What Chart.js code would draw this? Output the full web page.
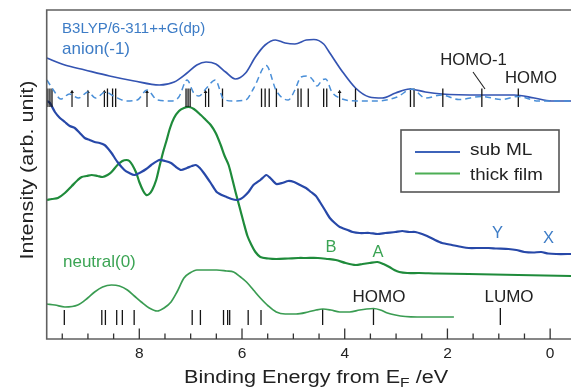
<!DOCTYPE html>
<html><head><meta charset="utf-8">
<script src="https://cdn.jsdelivr.net/npm/chart.js@4.4.1/dist/chart.umd.min.js"></script>
<style>html,body{margin:0;padding:0;background:#fff;}#wrap{width:575px;height:387px;}</style>
</head><body><div id="wrap"><canvas id="c" width="575" height="387"></canvas></div>
<script>
// ---- tick data ----
const energyTicks = [8, 6, 4, 2, 0];
const energyTickLabels = ['8', '6', '4', '2', '0'];
const minorTicks = [9.5, 9, 8.5, 7.5, 7, 6.5, 5.5, 5, 4.5, 3.5, 3, 2.5, 1.5, 1, 0.5];

// ---- calculated anion spectrum (solid) ----
const anionCalcE = [9.80, 9.45, 9.06, 8.58, 8.10, 7.61, 7.32, 7.07, 6.88, 6.70, 6.51, 6.32, 6.13, 5.93, 5.74, 5.55, 5.35, 5.16, 4.97, 4.75, 4.60, 4.41, 4.29, 4.04, 3.79, 3.52, 3.27, 3.01, 2.74, 2.43, 2.11, 1.33, 0.70, 0.31, -0.02, -0.41];
const anionCalcI = [281, 274, 269, 263, 258, 254, 257, 266, 274, 277, 275, 267, 260, 266, 282, 294, 299, 296, 295, 299, 299.5, 295, 286, 267, 251, 242, 241, 246, 250, 247, 245, 244, 244, 241, 238, 238];

// ---- calculated anion DOS (dashed) ----
const anionDosE = [9.80, 9.66, 9.53, 9.36, 9.18, 9.00, 8.85, 8.66, 8.50, 8.25, 8.04, 7.85, 7.65, 7.38, 7.23, 7.07, 6.94, 6.84, 6.69, 6.52, 6.36, 6.18, 5.93, 5.77, 5.53, 5.33, 5.10, 4.97, 4.85, 4.71, 4.62, 4.54, 4.44, 4.37, 4.25, 4.10, 3.75, 3.36, 2.98, 2.69, 2.43, 2.11, 1.78, 1.33, 0.95, 0.62, 0.23, -0.41];
const anionDosI = [259, 248, 240, 245, 241, 247, 241, 247, 243, 238, 239, 249, 239, 238, 242, 259, 246, 243, 251, 259, 240, 238, 239, 251, 273.5, 248, 239, 249, 262, 263, 259, 253, 259, 260, 247, 241, 238, 238, 242, 250, 241, 244, 239.5, 242.5, 239.5, 242.5, 238, 238];

// ---- anion levels ----
const anionStickE = [9.78, 9.74, 9.70, 8.62, 8.52, 8.46, 7.09, 7.05, 7.01, 6.65, 6.38, 5.62, 5.55, 5.47, 5.33, 4.91, 4.85, 4.71, 4.41, 4.35, 3.79, 2.72, 2.65, 2.09, 1.33, 0.62];
const anionArrowE = [9.31, 9.00, 8.68, 7.85, 6.71, 4.10];

// ---- experiment: sub ML ----
const subMLE = [9.797, 9.739, 9.643, 9.546, 9.449, 9.353, 9.256, 9.159, 9.063, 8.966, 8.870, 8.773, 8.676, 8.618, 8.541, 8.425, 8.290, 8.193, 8.097, 7.961, 7.865, 7.768, 7.614, 7.498, 7.382, 7.285, 7.188, 7.072, 6.976, 6.899, 6.821, 6.744, 6.609, 6.493, 6.396, 6.300, 6.203, 6.106, 6.029, 5.971, 5.874, 5.778, 5.643, 5.527, 5.449, 5.333, 5.217, 5.101, 4.986, 4.870, 4.754, 4.657, 4.560, 4.483, 4.386, 4.290, 4.193, 4.097, 3.942, 3.845, 3.710, 3.517, 3.362, 3.208, 3.014, 2.879, 2.744, 2.628, 2.493, 2.396, 2.242, 2.106, 1.913, 1.720, 1.585, 1.391, 1.198, 1.043, 0.812, 0.657, 0.502, 0.329, 0.174, 0.039, -0.116, -0.406];
const subMLI = [238, 236, 227, 221, 217, 213, 211, 206, 201, 199, 197, 196, 194, 191, 186, 177, 169, 166, 164, 167, 170, 174, 179, 178, 176, 172, 169, 171, 173, 174, 171, 166, 156, 147, 144, 142, 140, 139, 140, 142, 147, 154, 159, 164, 161, 155, 156, 158, 157, 154, 151, 147, 143, 137, 129, 121, 116, 112, 109, 107, 106, 106, 105, 106, 107, 108, 107, 107, 105, 103, 99, 96, 94, 92, 91, 91, 91, 90.5, 90, 89, 87, 86.5, 87, 85.5, 85, 85];

// ---- experiment: thick film ----
const thickE = [9.797, 9.700, 9.585, 9.449, 9.314, 9.198, 9.121, 9.024, 8.928, 8.812, 8.715, 8.618, 8.541, 8.425, 8.329, 8.251, 8.193, 8.135, 8.058, 8.000, 7.923, 7.865, 7.807, 7.749, 7.671, 7.614, 7.536, 7.478, 7.401, 7.324, 7.227, 7.130, 7.034, 6.937, 6.802, 6.705, 6.609, 6.512, 6.415, 6.338, 6.261, 6.184, 6.126, 6.048, 5.971, 5.894, 5.816, 5.739, 5.643, 5.488, 5.333, 5.101, 4.908, 4.754, 4.522, 4.329, 4.174, 3.981, 3.787, 3.652, 3.517, 3.362, 3.246, 3.130, 3.034, 2.937, 2.783, 2.551, 2.203, 1.585, 0.618, -0.406];
const thickI = [139, 140, 141, 146, 153, 159, 162, 163, 164, 163, 162, 164, 167, 174, 178, 179, 178, 174, 166, 157, 148, 144, 145, 149, 159, 171, 187, 197, 211, 221, 228, 231, 232, 230, 224, 219, 214, 206, 194, 183, 174, 159, 147, 132, 117, 103, 94, 87, 82, 80.5, 80, 80.5, 81, 81, 81, 80, 79, 76, 74, 75, 76, 77, 75, 72, 69, 67, 66, 66, 65.5, 65, 64, 63];

// ---- calculated neutral spectrum ----
const neutralE = [9.797, 9.643, 9.449, 9.198, 9.005, 8.870, 8.715, 8.541, 8.386, 8.232, 8.097, 7.961, 7.807, 7.652, 7.517, 7.382, 7.266, 7.130, 7.014, 6.879, 6.647, 6.493, 6.300, 6.164, 6.029, 5.913, 5.778, 5.643, 5.488, 5.333, 5.159, 4.947, 4.715, 4.560, 4.425, 4.271, 4.097, 3.903, 3.710, 3.575, 3.440, 3.304, 3.169, 3.014, 2.821, 2.589, 2.203, 1.874];
const neutralI = [35, 34, 32, 34, 41, 47, 52, 54, 53, 49, 43, 37, 31, 28, 31, 37, 47, 61, 66, 69, 69, 69, 68, 67, 62, 57, 49, 41, 33, 27, 25, 25, 27, 29, 30, 29, 27, 27, 29, 30, 30.5, 29, 26, 24, 22.5, 22, 22, 22];

// ---- neutral levels ----
const neutralStickE = [9.46, 8.73, 8.66, 8.44, 8.33, 8.10, 6.97, 6.81, 6.36, 6.28, 6.24, 5.88, 5.63, 4.43, 3.44, 0.97];
const neutralStickTop = [29, 29, 29, 29, 29, 29, 29, 29, 29, 29, 29, 29, 29, 30, 30.5, 31];

const seriesNames = ['sub ML', 'thick film'];

// ---- helpers ----
const toXY = (xs, ys) => xs.map((x, i) => ({x: x, y: ys[i]}));
function sticks(xs, lo, hi) {
  const out = [];
  xs.forEach((x, i) => {
    out.push({x: x, y: lo});
    out.push({x: x, y: Array.isArray(hi) ? hi[i] : hi});
    out.push({x: x, y: null});
  });
  return out;
}

const FONT = '"Liberation Sans", Arial, Helvetica, sans-serif';
function txt(ctx, s, x, y, size, color, align, sx) {
  ctx.save();
  ctx.font = size + 'px ' + FONT;
  ctx.fillStyle = color;
  ctx.textBaseline = 'alphabetic';
  ctx.textAlign = align || 'left';
  ctx.translate(x, y);
  ctx.scale(sx || 1, 1);
  ctx.fillText(s, 0, 0);
  ctx.restore();
}

const C_BLUE_TXT = '#3d7cc6';
const C_GREEN_TXT = '#3ba454';
const C_SUB = '#2748a8';
const C_THICK = '#1f8b3b';
const C_AXIS = '#606060';

const decor = {
  id: 'decor',
  afterDatasetsDraw(chart) {
    const ctx = chart.ctx, a = chart.chartArea, xs = chart.scales.x;
    ctx.save();
    // frame: top, left, bottom
    ctx.strokeStyle = C_AXIS; ctx.lineWidth = 1.6;
    ctx.beginPath();
    ctx.moveTo(a.right, a.top); ctx.lineTo(a.left, a.top); ctx.lineTo(a.left, a.bottom); ctx.lineTo(a.right, a.bottom);
    ctx.stroke();
    // inward ticks
    ctx.lineWidth = 1.3; ctx.strokeStyle = '#333';
    energyTicks.forEach(v => { const p = xs.getPixelForValue(v); ctx.beginPath(); ctx.moveTo(p, a.bottom); ctx.lineTo(p, a.bottom - 10.5); ctx.stroke(); });
    minorTicks.forEach(v => { const p = xs.getPixelForValue(v); ctx.beginPath(); ctx.moveTo(p, a.bottom); ctx.lineTo(p, a.bottom - 5.5); ctx.stroke(); });
    // tick labels
    energyTicks.forEach((v, i) => txt(ctx, energyTickLabels[i], xs.getPixelForValue(v), 358, 15.5, '#222', 'center'));
    // x title with subscript
    ctx.font = '18px ' + FONT;
    const s1 = 'Binding Energy from E', s3 = ' /eV';
    const w1 = ctx.measureText(s1).width * 1.2;
    ctx.font = '13px ' + FONT;
    const w2 = ctx.measureText('F').width * 1.2;
    const x0 = 184;
    txt(ctx, s1, x0, 383, 18, '#222', 'left', 1.2);
    txt(ctx, 'F', x0 + w1, 386.5, 13, '#222', 'left', 1.2);
    txt(ctx, s3, x0 + w1 + w2, 383, 18, '#222', 'left', 1.2);
    // y title
    ctx.save();
    ctx.translate(33, 170); ctx.rotate(-Math.PI / 2);
    txt(ctx, 'Intensity (arb. unit)', 0, 0, 18, '#222', 'center', 1.2);
    ctx.restore();
    // annotations
    txt(ctx, 'B3LYP/6-311++G(dp)', 62, 33, 15.5, C_BLUE_TXT, 'left', 0.97);
    txt(ctx, 'anion(-1)', 62, 53.5, 17, C_BLUE_TXT, 'left', 1.0);
    txt(ctx, 'HOMO-1', 473.5, 65, 17, '#222', 'center', 0.98);
    txt(ctx, 'HOMO', 531, 83, 17, '#222', 'center', 0.98);
    ctx.strokeStyle = '#222'; ctx.lineWidth = 1.1;
    ctx.beginPath(); ctx.moveTo(473, 72); ctx.lineTo(485, 89); ctx.stroke();
    txt(ctx, 'Y', 497.5, 238, 16.5, C_BLUE_TXT, 'center');
    txt(ctx, 'X', 548.5, 242.5, 16.5, C_BLUE_TXT, 'center');
    txt(ctx, 'B', 331, 251.5, 16.5, C_GREEN_TXT, 'center');
    txt(ctx, 'A', 378, 256.5, 16.5, C_GREEN_TXT, 'center');
    txt(ctx, 'neutral(0)', 63, 267, 17, C_GREEN_TXT, 'left');
    txt(ctx, 'HOMO', 379, 301.5, 17, '#222', 'center');
    txt(ctx, 'LUMO', 509, 301.5, 17, '#222', 'center');
    // legend
    ctx.fillStyle = '#fff';
    ctx.fillRect(401, 130, 158, 62);
    ctx.strokeStyle = '#555'; ctx.lineWidth = 1.6;
    ctx.strokeRect(401, 130, 158, 62);
    ctx.lineWidth = 2.2;
    ctx.strokeStyle = '#3d63b9';
    ctx.beginPath(); ctx.moveTo(415, 152); ctx.lineTo(460, 152); ctx.stroke();
    ctx.strokeStyle = '#4cae55';
    ctx.beginPath(); ctx.moveTo(415, 173.5); ctx.lineTo(460, 173.5); ctx.stroke();
    txt(ctx, seriesNames[0], 470, 155, 17, '#222', 'left', 1.12);
    txt(ctx, seriesNames[1], 470, 180, 17, '#222', 'left', 1.1);
    ctx.restore();
  }
};

const ctxEl = document.getElementById('c');
new Chart(ctxEl, {
  type: 'scatter',
  data: {
    datasets: [
      {label: 'anion DOS', data: toXY(anionDosE, anionDosI), showLine: true, borderColor: '#4a8fd8', borderWidth: 1.5, borderDash: [6, 4], pointRadius: 0, cubicInterpolationMode: 'monotone'},
      {label: 'anion levels', data: sticks(anionStickE, 232, 250.5), showLine: true, spanGaps: false, borderColor: '#151515', borderWidth: 1.3, pointRadius: 0},
      {label: 'anion arrows', data: sticks(anionArrowE, 232, 247), showLine: true, spanGaps: false, borderColor: '#151515', borderWidth: 1.2, pointRadius: 0},
      {label: 'anion arrow heads', data: anionArrowE.map(e => ({x: e, y: 247})), showLine: false, pointStyle: 'triangle', pointRadius: 2.2, backgroundColor: '#151515', borderColor: '#151515', borderWidth: 0},
      {label: 'anion calc', data: toXY(anionCalcE, anionCalcI), showLine: true, borderColor: '#3454b2', borderWidth: 1.7, pointRadius: 0, cubicInterpolationMode: 'monotone'},
      {label: seriesNames[0], data: toXY(subMLE, subMLI), showLine: true, borderColor: C_SUB, borderWidth: 2.2, pointRadius: 0, tension: 0.2},
      {label: seriesNames[1], data: toXY(thickE, thickI), showLine: true, borderColor: C_THICK, borderWidth: 2.2, pointRadius: 0, tension: 0.3},
      {label: 'neutral calc', data: toXY(neutralE, neutralI), showLine: true, borderColor: '#3a9c52', borderWidth: 1.7, pointRadius: 0, cubicInterpolationMode: 'monotone'},
      {label: 'neutral levels', data: sticks(neutralStickE, 14, neutralStickTop), showLine: true, spanGaps: false, borderColor: '#151515', borderWidth: 1.3, pointRadius: 0}
    ]
  },
  options: {
    responsive: false,
    animation: false,
    devicePixelRatio: 1,
    layout: {padding: {left: 46.7, top: 10, right: 0, bottom: 48}},
    scales: {
      x: {type: 'linear', reverse: true, min: -0.406, max: 9.803, display: false},
      y: {type: 'linear', min: 0, max: 329, display: false}
    },
    plugins: {legend: {display: false}, tooltip: {enabled: false}}
  },
  plugins: [decor]
});
</script>
</body></html>
